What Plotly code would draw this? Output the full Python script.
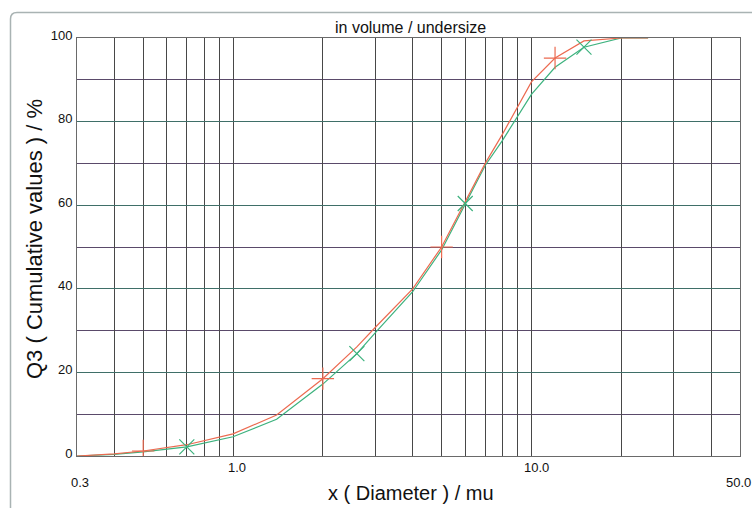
import math
import plotly.graph_objects as go

# ---- data ----
diameter = [0.3, 0.4, 0.5, 0.7, 1.0, 1.4, 2.0, 2.6, 3.0, 4.0, 5.0, 6.0, 7.0, 8.0, 10.0, 12.0, 15.0, 20.0, 24.6]
q3_red   = [0.0, 0.5, 1.2, 2.7, 5.3, 9.8, 18.5, 26.1, 30.8, 40.0, 50.0, 61.0, 70.0, 77.0, 89.5, 95.2, 99.3, 100.0, 100.0]
q3_green = [0.0, 0.4, 1.0, 2.2, 4.6, 8.8, 17.2, 24.5, 29.5, 39.3, 49.3, 60.4, 69.5, 75.5, 86.5, 93.0, 97.8, 100.0, 100.0]
red_marker_x = [0.5, 2.0, 5.0, 12.0]
green_marker_x = [0.7, 2.6, 6.0, 15.0]

x_grid_vals = [0.3, 0.4, 0.5, 0.6, 0.7, 0.8, 0.9, 1, 2, 3, 4, 5, 6, 7, 8, 9, 10, 20, 30, 40, 50]
x_label_vals = [0.3, 1.0, 10.0, 50.0]
x_label_text = ["0.3", "1.0", "10.0", "50.0"]
x_label_row = [1, 0, 0, 1]
x_label_shift = [3, 4, 5, -2]
y_tick_vals = [0, 20, 40, 60, 80, 100]
y_tick_text = ["0", "20", "40", "60", "80", "100"]
y_minor_vals = [10, 30, 50, 70, 90]

title_text = "in volume / undersize"
x_title = "x ( Diameter ) / mu"
y_title = "Q3 ( Cumulative values ) / %"

RED = "#ec6a50"
GREEN = "#3db27e"
FONT = "Liberation Sans, Arial, sans-serif"

W, H = 752, 508
ML, MR, MT, MB = 77, 12, 38, 52
PW, PH = W - ML - MR, H - MT - MB

def px_to_paper_x(px):
    return (px - ML) / PW

def py_to_paper_y(py):
    return (H - MB - py) / PH

fig = go.Figure()

fig.add_trace(go.Scatter(x=diameter, y=q3_green, mode="lines",
                         line=dict(color=GREEN, width=1.2), hoverinfo="skip"))
fig.add_trace(go.Scatter(x=diameter, y=q3_red, mode="lines",
                         line=dict(color=RED, width=1.2), hoverinfo="skip"))

red_my = [q3_red[diameter.index(v)] for v in red_marker_x]
green_my = [q3_green[diameter.index(v)] for v in green_marker_x]
fig.add_trace(go.Scatter(x=red_marker_x, y=red_my, mode="markers",
                         marker=dict(symbol="cross-thin", size=16, line=dict(color=RED, width=1.2)),
                         hoverinfo="skip"))
fig.add_trace(go.Scatter(x=green_marker_x, y=green_my, mode="markers",
                         marker=dict(symbol="x-thin", size=15, line=dict(color=GREEN, width=1.2)),
                         hoverinfo="skip"))

annotations = []
for v, t, row, sh in zip(x_label_vals, x_label_text, x_label_row, x_label_shift):
    annotations.append(dict(x=math.log10(v), xref="x", y=0, yref="paper",
                            text=t, showarrow=False, xanchor="center", yanchor="top",
                            xshift=sh, yshift=-2 - 15 * row,
                            font=dict(family=FONT, size=13, color="#111")))
annotations.append(dict(x=0.5, xref="paper", y=1, yref="paper", text=title_text,
                        showarrow=False, xanchor="center", yanchor="bottom", xshift=2, yshift=0,
                        font=dict(family=FONT, size=16, color="#111")))
annotations.append(dict(x=0.5, xref="paper", y=0, yref="paper", text=x_title,
                        showarrow=False, xanchor="center", yanchor="middle", xshift=2, yshift=-37,
                        font=dict(family=FONT, size=20, color="#111")))
annotations.append(dict(x=0, xref="paper", y=0.5, yref="paper", text=y_title,
                        showarrow=False, xanchor="center", yanchor="middle", textangle=-90,
                        xshift=-43, yshift=8,
                        font=dict(family=FONT, size=22, color="#111")))

# outer frame (closed path, transparent fill) with rounded top-left corner
xl, yt = px_to_paper_x(10.5), py_to_paper_y(12.5)
xr = px_to_paper_x(W + 10)
yb = py_to_paper_y(H + 10)
xc = px_to_paper_x(17)
yc = py_to_paper_y(19)
frame_path = (f"M {xl} {yb} L {xl} {yc} Q {xl} {yt} {xc} {yt} "
              f"L {xr} {yt} L {xr} {yb} Z")

fig.update_layout(
    width=W, height=H,
    margin=dict(l=ML, r=MR, t=MT, b=MB),
    paper_bgcolor="white", plot_bgcolor="white",
    showlegend=False,
    annotations=annotations,
    shapes=[dict(type="path", path=frame_path, xref="paper", yref="paper",
                 fillcolor="rgba(0,0,0,0)",
                 line=dict(color="#a9b3b3", width=1.5), layer="above")],
    xaxis=dict(type="log", range=[math.log10(0.3), math.log10(50)],
               tickvals=x_grid_vals, showticklabels=False, ticks="",
               showgrid=True, gridcolor="#484848", gridwidth=1,
               showline=True, linecolor="#6a6a6a", linewidth=1, mirror=True,
               zeroline=False),
    yaxis=dict(range=[0, 100], tickvals=y_tick_vals, ticktext=y_tick_text,
               ticks="", showgrid=True, gridcolor="#3f6f68", gridwidth=1,
               minor=dict(tickvals=y_minor_vals, showgrid=True,
                          gridcolor="#5a4a6a", gridwidth=1),
               ticklabelshift=-3, ticklabelstandoff=1,
               tickfont=dict(family=FONT, size=13, color="#111"),
               showline=True, linecolor="#6a6a6a", linewidth=1, mirror=True,
               zeroline=False),
)

fig.write_html("out.html")
